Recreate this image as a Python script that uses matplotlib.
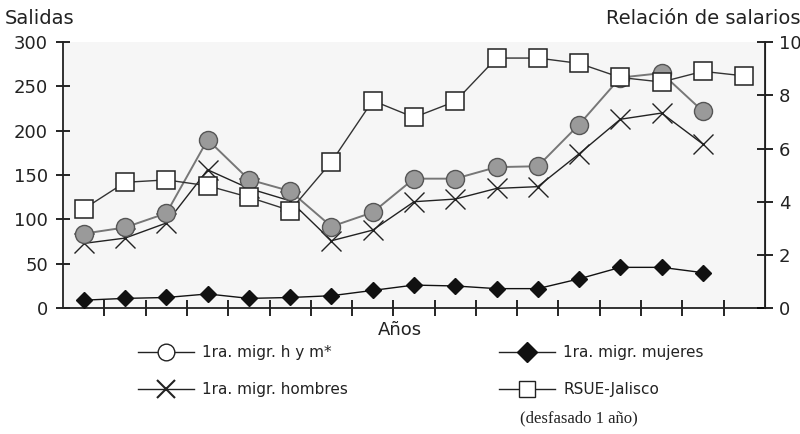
import numpy as np
import matplotlib
matplotlib.use("Agg")
import matplotlib.pyplot as plt
from matplotlib.lines import Line2D

# values (17 year slots, no year labels shown)
hym = [84, 91, 107, 190, 145, 132, 92, 108, 146, 146, 159, 160, 207, 260, 265, 222]
hombres = [73, 79, 96, 156, 135, 121, 76, 88, 120, 123, 135, 137, 174, 213, 220, 185]
mujeres = [9, 11, 12, 16, 11, 12, 14, 20, 26, 25, 22, 22, 33, 46, 46, 40]
# RSUE-Jalisco, right axis (relación de salarios)
rsue = [3.73, 4.73, 4.82, 4.6, 4.17, 3.67, 5.5, 7.8, 7.17, 7.77, 9.4, 9.4, 9.2, 8.67, 8.5, 8.9, 8.73]

left_ticks = [0, 50, 100, 150, 200, 250, 300]
right_ticks = [0, 2, 4, 6, 8, 10]

plt.rcParams['font.family'] = ['DejaVu Sans']

fig = plt.figure(figsize=(8, 4.34), dpi=100)
ax = fig.add_axes([0.079, 0.29, 0.877, 0.613])
ax.set_facecolor('#f6f6f6')
ax2 = ax.twinx()

x16 = np.arange(len(hym)) + 0.5
x17 = np.arange(len(rsue)) + 0.5

ax2.plot(x17, rsue, color='#333333', lw=1.0, marker='s', ms=13,
         mfc='white', mec='#222222', mew=1.1, zorder=2)
ax.plot(x16, hombres, color='#222222', lw=1.0, marker='x', ms=14,
        mew=1.0, mec='#222222', zorder=3)
ax.plot(x16, hym, color='#777777', lw=1.4, marker='o', ms=13,
        mfc='#9a9a9a', mec='#555555', mew=1.0, zorder=4)
ax.plot(x16, mujeres, color='#111111', lw=1.0, marker='D', ms=8,
        mfc='#111111', mec='#111111', zorder=5)

ax.set_xlim(0, 17)
ax.set_ylim(0, 300)
ax2.set_ylim(0, 10)
ax.set_yticks(left_ticks)
ax2.set_yticks(right_ticks)
ax.set_yticklabels([str(t) for t in left_ticks], fontsize=13, color='#222222')
ax2.set_yticklabels([str(t) for t in right_ticks], fontsize=13, color='#222222')
ax.set_xticks(np.arange(1, 17))
ax.set_xticklabels([])

for a in (ax, ax2):
    a.spines['top'].set_visible(False)
for s in ('left', 'bottom'):
    ax.spines[s].set_linewidth(1.3)
    ax.spines[s].set_color('#222222')
ax2.spines['right'].set_linewidth(1.3)
ax2.spines['right'].set_color('#222222')
ax2.spines['left'].set_visible(False)
ax2.spines['bottom'].set_visible(False)

ax.tick_params(axis='y', direction='inout', length=10, width=1.2, pad=6)
ax.tick_params(axis='x', direction='inout', length=12, width=1.2)
ax2.tick_params(axis='y', direction='inout', length=12, width=1.2, pad=4)

fig.text(0.006, 0.957, 'Salidas', fontsize=14, color='#222222', ha='left', va='center')
fig.text(1.0, 0.957, 'Relación de salarios', fontsize=14, color='#222222',
         ha='right', va='center')
fig.text(0.5, 0.24, 'Años', fontsize=13, color='#222222', ha='center', va='center')

# legend drawn by hand to match the two column layout
items = [
    (0.208, 0.188, 'o', dict(ms=12, mfc='white', mec='#222222'), '1ra. migr. h y m*'),
    (0.208, 0.103, 'x', dict(ms=13, mec='#222222', mew=1.5), '1ra. migr. hombres'),
    (0.659, 0.188, 'D', dict(ms=10, mfc='#111111', mec='#111111'), '1ra. migr. mujeres'),
    (0.659, 0.103, 's', dict(ms=11, mfc='white', mec='#222222'), 'RSUE-Jalisco'),
]
for x, y, m, kw, label in items:
    fig.add_artist(Line2D([x - 0.035, x + 0.035], [y, y], color='#222222', lw=1.0,
                          transform=fig.transFigure))
    fig.add_artist(Line2D([x], [y], marker=m, color='#222222', lw=0,
                          transform=fig.transFigure, **kw))
    fig.text(x + 0.045, y, label, fontsize=11, color='#222222', ha='left', va='center')

fig.text(0.65, 0.035, '(desfasado 1 año)', fontsize=12, color='#222222',
         ha='left', va='center', family=['Liberation Serif', 'DejaVu Serif'])

fig.savefig('out.png', dpi=100)
